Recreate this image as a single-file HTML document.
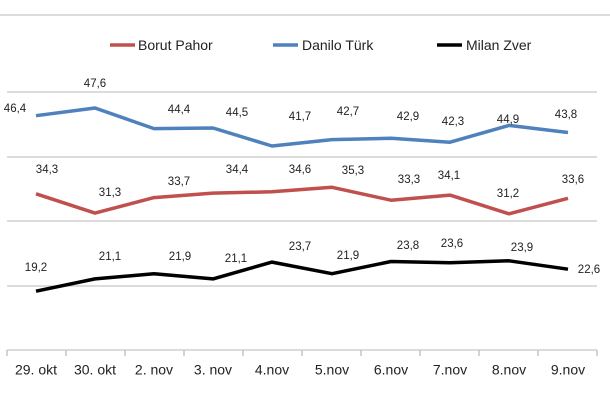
<!DOCTYPE html>
<html><head><meta charset="utf-8"><style>body{margin:0;background:#fff}svg{display:block}text{font-family:"Liberation Sans",sans-serif;fill:#222}</style></head><body>
<svg width="610" height="400" viewBox="0 0 610 400">
<g stroke="#c8c8c8" stroke-width="1.3">
<line x1="0" y1="15" x2="610" y2="15"/>
<line x1="7" y1="92" x2="597" y2="92"/>
<line x1="7" y1="157" x2="597" y2="157"/>
<line x1="7" y1="221" x2="597" y2="221"/>
<line x1="7" y1="286" x2="597" y2="286"/>
<line x1="7" y1="350" x2="597" y2="350"/>
</g>
<g stroke="#bbb" stroke-width="1.3">
<line x1="7" y1="350" x2="7" y2="356"/><line x1="66" y1="350" x2="66" y2="356"/><line x1="125" y1="350" x2="125" y2="356"/><line x1="184" y1="350" x2="184" y2="356"/><line x1="243" y1="350" x2="243" y2="356"/><line x1="302" y1="350" x2="302" y2="356"/><line x1="361" y1="350" x2="361" y2="356"/><line x1="420" y1="350" x2="420" y2="356"/><line x1="479" y1="350" x2="479" y2="356"/><line x1="538" y1="350" x2="538" y2="356"/><line x1="597" y1="350" x2="597" y2="356"/>
</g>
<g fill="none" stroke-width="3.5" stroke-linejoin="round">
<polyline stroke="#4f81bd" points="36,115.7 95,108 154,128.6 213,128 272,146 332,139.6 391,138.3 450,142.2 509,125.4 568,132.5"/>
<polyline stroke="#c0504d" points="36,193.8 95,213.1 154,197.6 213,193.1 272,191.8 332,187.3 391,200.2 450,195.1 509,213.8 568,198.3"/>
<polyline stroke="#000" points="36,291.2 95,278.9 154,273.7 213,278.9 272,262.1 332,273.7 391,261.5 450,262.8 509,260.8 568,269.2"/>
</g>
<g stroke-width="3.5">
<line x1="110" y1="45" x2="135" y2="45" stroke="#c0504d"/>
<line x1="273" y1="45" x2="298" y2="45" stroke="#4f81bd"/>
<line x1="437" y1="45" x2="462" y2="45" stroke="#000"/>
</g>
<g font-size="14">
<text x="138" y="50">Borut Pahor</text>
<text x="302" y="50">Danilo Türk</text>
<text x="466" y="50">Milan Zver</text>
</g>
<g font-size="11.5" text-anchor="middle" dominant-baseline="middle">
<text x="15" y="109">46,4</text><text x="95" y="84">47,6</text><text x="179" y="110">44,4</text><text x="237" y="113">44,5</text><text x="300" y="117">41,7</text><text x="348" y="112">42,7</text><text x="408" y="117">42,9</text><text x="453" y="122">42,3</text><text x="508" y="120">44,9</text><text x="566" y="115">43,8</text>
<text x="47" y="170">34,3</text><text x="110" y="193">31,3</text><text x="179" y="182">33,7</text><text x="237" y="170">34,4</text><text x="300" y="170">34,6</text><text x="353" y="171">35,3</text><text x="409" y="180">33,3</text><text x="449" y="176">34,1</text><text x="508" y="194">31,2</text><text x="573" y="180">33,6</text>
<text x="36" y="268">19,2</text><text x="110" y="257">21,1</text><text x="180" y="257">21,9</text><text x="236" y="259">21,1</text><text x="300" y="247">23,7</text><text x="348" y="256">21,9</text><text x="408" y="246">23,8</text><text x="452" y="244">23,6</text><text x="522" y="248">23,9</text><text x="589" y="270">22,6</text>
</g>
<g font-size="14" text-anchor="middle" dominant-baseline="middle">
<text x="36" y="371">29. okt</text><text x="95" y="371">30. okt</text><text x="154" y="371">2. nov</text><text x="213" y="371">3. nov</text><text x="272" y="371">4.nov</text><text x="332" y="371">5.nov</text><text x="391" y="371">6.nov</text><text x="450" y="371">7.nov</text><text x="509" y="371">8.nov</text><text x="568" y="371">9.nov</text>
</g>
</svg>
</body></html>
